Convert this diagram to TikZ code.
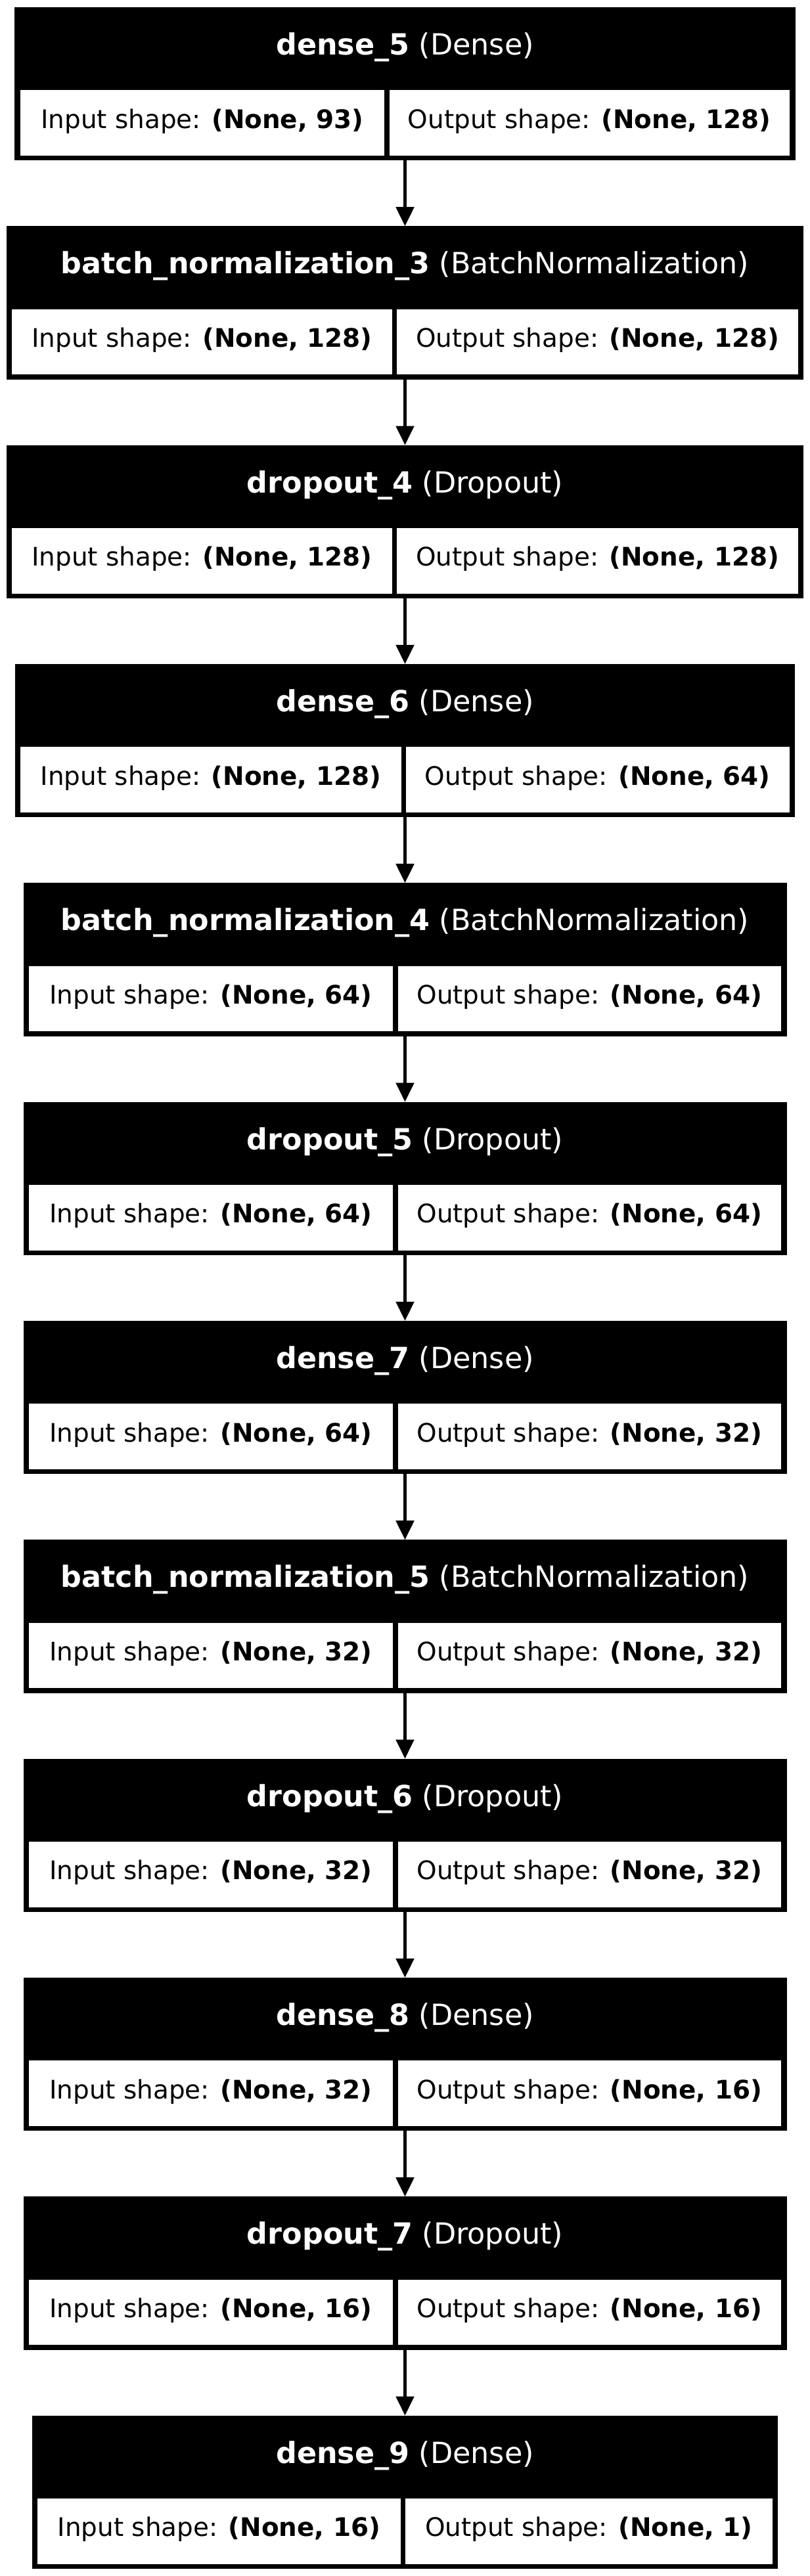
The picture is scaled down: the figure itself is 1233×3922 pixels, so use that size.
\documentclass[tikz,border=0pt]{standalone}
\usepackage{fontspec}
\setmainfont{DejaVu Sans}
\usetikzlibrary{arrows.meta,fit}
\tikzset{
  layerbox/.style={fill=black, inner sep=0pt, outer sep=0pt},
  cellbox/.style={fill=white, inner sep=0pt, outer sep=0pt},
  headtext/.style={text=white, font=\fontsize{16}{19}\selectfont, inner sep=0pt, anchor=base},
  celltext/.style={text=black, font=\fontsize{14}{17}\selectfont, inner sep=0pt, anchor=base},
  conn/.style={draw=black, line width=1.9pt, -{Triangle[length=10.5pt,width=9.7pt]}},
}
\newcommand\layerblock[8]{%
  \pgfmathsetmacro\Lx{#3}%
  \pgfmathsetmacro\Rx{1233-#3}%
  \pgfmathsetmacro\Ty{#2}%
  \pgfmathsetmacro\By{#2+233.3}%
  \pgfmathsetmacro\Hy{#2+126.4}%
  \pgfmathsetmacro\Wy{#2+226}%
  \pgfmathsetmacro\WL{#3+8.5}%
  \pgfmathsetmacro\WR{1233-#3-8.5}%
  \pgfmathsetmacro\DL{#4}%
  \pgfmathsetmacro\DR{#4+7.5}%
  \pgfmathsetmacro\HT{#2+72.4}%
  \pgfmathsetmacro\CT{#2+184}%
  \pgfmathsetmacro\CL{(\WL+\DL)/2}%
  \pgfmathsetmacro\CR{(\DR+\WR)/2}%
  \node[layerbox, fit={(\Lx,\Ty) (\Rx,\By)}] (#1) {};
  \node[cellbox, fit={(\WL,\Hy) (\DL,\Wy)}] (#1in) {};
  \node[cellbox, fit={(\DR,\Hy) (\WR,\Wy)}] (#1out) {};
  \node[headtext] (#1t) at (616.5,\HT) {\textbf{#5} (#6)};
  \node[celltext] (#1it) at (\CL,\CT) {Input shape: \textbf{#7}};
  \node[celltext] (#1ot) at (\CR,\CT) {Output shape: \textbf{#8}};
}
\begin{document}
\begin{tikzpicture}[x=0.36pt,y=-0.36pt]
\fill[white] (0,0) rectangle (1233,3922);
\useasboundingbox (0,0) rectangle (1233,3922);
\layerblock{La}{11}{22.3}{585}{dense\_5}{Dense}{(None, 93)}{(None, 128)}
\layerblock{Lb}{344.33}{9.65}{596.85}{batch\_normalization\_3}{BatchNormalization}{(None, 128)}{(None, 128)}
\layerblock{Lc}{677.67}{9.65}{596.85}{dropout\_4}{Dropout}{(None, 128)}{(None, 128)}
\layerblock{Ld}{1011}{22.9}{610.5}{dense\_6}{Dense}{(None, 128)}{(None, 64)}
\layerblock{Le}{1344.33}{35.5}{598}{batch\_normalization\_4}{BatchNormalization}{(None, 64)}{(None, 64)}
\layerblock{Lf}{1677.67}{35.5}{598}{dropout\_5}{Dropout}{(None, 64)}{(None, 64)}
\layerblock{Lg}{2011}{35.5}{598}{dense\_7}{Dense}{(None, 64)}{(None, 32)}
\layerblock{Lh}{2344.33}{35.5}{598}{batch\_normalization\_5}{BatchNormalization}{(None, 32)}{(None, 32)}
\layerblock{Li}{2677.67}{35.5}{598}{dropout\_6}{Dropout}{(None, 32)}{(None, 32)}
\layerblock{Lj}{3011}{35.5}{598}{dense\_8}{Dense}{(None, 32)}{(None, 16)}
\layerblock{Lk}{3344.33}{35.5}{598}{dropout\_7}{Dropout}{(None, 16)}{(None, 16)}
\layerblock{Ll}{3677.67}{48.8}{609.5}{dense\_9}{Dense}{(None, 16)}{(None, 1)}
\draw[conn] (La.south) -- (Lb.north);
\draw[conn] (Lb.south) -- (Lc.north);
\draw[conn] (Lc.south) -- (Ld.north);
\draw[conn] (Ld.south) -- (Le.north);
\draw[conn] (Le.south) -- (Lf.north);
\draw[conn] (Lf.south) -- (Lg.north);
\draw[conn] (Lg.south) -- (Lh.north);
\draw[conn] (Lh.south) -- (Li.north);
\draw[conn] (Li.south) -- (Lj.north);
\draw[conn] (Lj.south) -- (Lk.north);
\draw[conn] (Lk.south) -- (Ll.north);
\end{tikzpicture}
\end{document}
